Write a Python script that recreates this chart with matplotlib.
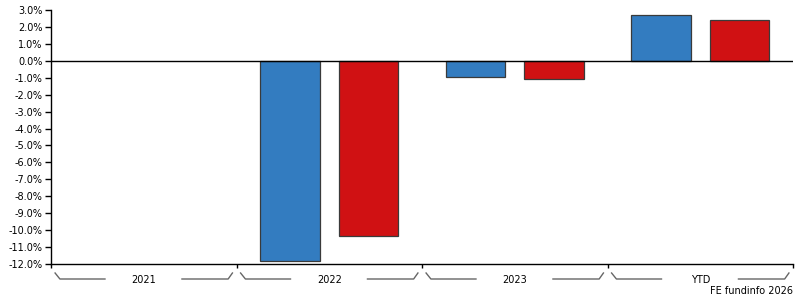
import numpy as np
import matplotlib.pyplot as plt
from matplotlib import transforms as mtrans
from matplotlib.ticker import FuncFormatter

# yearly returns in %, fund vs sector (2021 has no data)
categories = ['2021', '2022', '2023', 'YTD']
fund = [np.nan, -11.85, -0.98, 2.72]
sector = [np.nan, -10.34, -1.08, 2.42]

blue = '#337cc0'
red = '#d01113'

plt.rcParams['font.family'] = 'DejaVu Sans'
plt.rcParams['font.size'] = 7

fig = plt.figure(figsize=(7.95, 3.0), dpi=100)
ax = fig.add_axes([51 / 795, 1 - 264 / 300, 742 / 795, 254 / 300])

x = np.arange(len(categories))
w = 0.32
off = 0.2125
ax.bar(x - off, fund, w, color=blue, edgecolor='#3a3a3a', linewidth=0.9)
ax.bar(x + off, sector, w, color=red, edgecolor='#3a3a3a', linewidth=0.9)

ax.axhline(0, color='black', linewidth=1.0, zorder=3)

ax.set_xlim(-0.5, len(categories) - 0.5)
ax.set_ylim(-12, 3)
ax.set_yticks(np.arange(-12, 3.1, 1))
ax.yaxis.set_major_formatter(FuncFormatter(lambda v, p: '%.1f%%' % v))
ax.set_xticks(np.arange(-0.5, len(categories), 1))
ax.set_xticklabels([])
ax.tick_params(axis='y', length=4, width=1, pad=2, colors='black')
ax.tick_params(axis='x', length=3, width=1, direction='in')
ax.tick_params(axis='x', which='major', direction='out', length=3)

for s in ['top', 'right']:
    ax.spines[s].set_visible(False)
for s in ['left', 'bottom']:
    ax.spines[s].set_linewidth(1.0)

# bracket-like category labels under the axis
tr = mtrans.blended_transform_factory(ax.transData, ax.transAxes)
y_top = -9 / 254
y_bot = -15 / 254
for i, cat in enumerate(categories):
    b = i - 0.5
    xs_l = [b + 0.022, b + 0.048, b + 0.291]
    ys_l = [y_top, y_bot, y_bot]
    xs_r = [b + 0.706, b + 0.955, b + 0.978]
    ys_r = [y_bot, y_bot, y_top]
    ax.plot(xs_l, ys_l, color='#666666', linewidth=1.0, transform=tr, clip_on=False)
    ax.plot(xs_r, ys_r, color='#666666', linewidth=1.0, transform=tr, clip_on=False)
    ax.text(i, -16 / 254, cat, transform=tr, ha='center', va='center')

fig.text(793 / 795, 1 - 291 / 300, 'FE fundinfo 2026', ha='right', va='center')

fig.savefig('out.png', dpi=100)
